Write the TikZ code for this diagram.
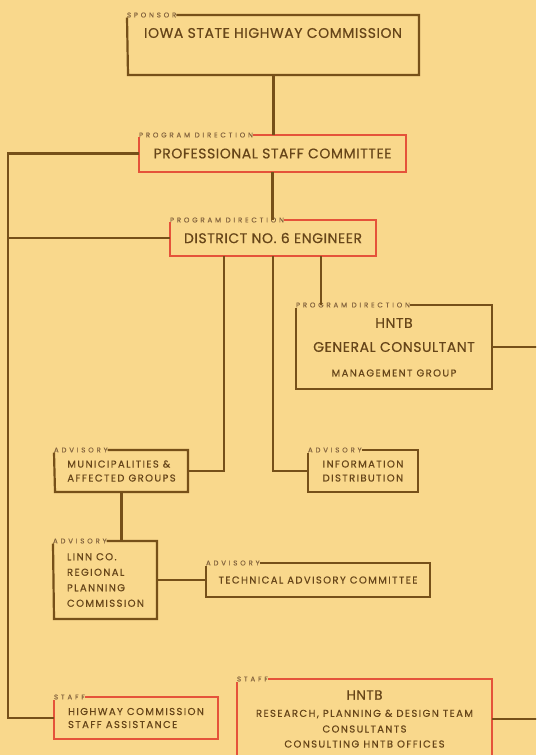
\documentclass[tikz,border=0pt]{standalone}
\usepackage{fontspec}
\setmainfont{Poppins}
\newfontfamily\bodyfont[LetterSpace=4,FakeBold=0.5]{Poppins}
\newfontfamily\smallfont[LetterSpace=14,FakeBold=0.4]{Poppins}
\newfontfamily\tagfont[LetterSpace=40,FakeBold=0.4]{Poppins}
\definecolor{bg}{HTML}{F9D88C}
\definecolor{lbrown}{HTML}{765019}
\definecolor{lred}{HTML}{E5533A}
\definecolor{tbrown}{HTML}{664519}
\definecolor{tagc}{HTML}{85653F}
\tikzset{
 bline/.style={draw=lbrown, line width=2.2pt},
 rline/.style={draw=lred, line width=2.2pt},
 boxn/.style={anchor=north west, inner sep=0pt, outer sep=0pt, text=tbrown, align=center},
 tagn/.style={anchor=west, inner sep=0pt, outer sep=0pt, font=\tagfont\fontsize{7}{7}\selectfont, text=tagc},
 bigt/.style={font=\bodyfont\fontsize{14}{16}\selectfont, text=tbrown, inner sep=0pt},
 smallt/.style={font=\smallfont\fontsize{10}{14}\selectfont, text=tbrown, inner sep=0pt, align=left},
}
\newcommand\orgframe[3]{\draw[#3, line join=miter] (#2.east) -- (#1.north east) -- (#1.south east) -- (#1.south west) -- (#2.south west);}
\begin{document}
\begin{tikzpicture}[x=1pt,y=-1pt]
\fill[bg] (0,0) rectangle (536,755);
\useasboundingbox (0,0) rectangle (536,755);
\clip (0,0) rectangle (536,755);
\coordinate (leftx) at (8,0);
\coordinate (rightx) at (540,0);

% boxes
\node[boxn, minimum width=291pt, minimum height=60pt] (sponsor) at (128,15) {};
\node[bigt] (sponsorT) at (273,33) {IOWA STATE HIGHWAY COMMISSION};
\node[tagn] (sponsorL) at ([xshift=-1pt]sponsor.north west) {SPONSOR};
\orgframe{sponsor}{sponsorL}{bline}

\node[boxn, bigt, anchor=north west, minimum width=267pt, minimum height=37pt] (psc) at (139,135) {PROFESSIONAL STAFF COMMITTEE};
\node[tagn] (pscL) at (psc.north west) {PROGRAM DIRECTION};
\orgframe{psc}{pscL}{rline}

\node[boxn, bigt, anchor=north west, minimum width=206pt, minimum height=36pt] (district) at (170,220) {DISTRICT NO. 6 ENGINEER};
\node[tagn] (districtL) at (district.north west) {PROGRAM DIRECTION};
\orgframe{district}{districtL}{rline}

\node[boxn, minimum width=196pt, minimum height=84pt] (gc) at (296,305) {};
\node[bigt] (gcA) at (394,323) {HNTB};
\node[bigt] (gcB) at (394,347) {GENERAL CONSULTANT};
\node[smallt] (gcC) at (394,373) {MANAGEMENT GROUP};
\node[tagn] (gcL) at (gc.north west) {PROGRAM DIRECTION};
\orgframe{gc}{gcL}{bline}

\node[boxn, smallt, anchor=north west, minimum width=133pt, minimum height=42pt] (muni) at (55,450) {MUNICIPALITIES \&\\AFFECTED GROUPS};
\node[tagn] (muniL) at ([xshift=-1pt]muni.north west) {ADVISORY};
\orgframe{muni}{muniL}{bline}

\node[boxn, smallt, anchor=north west, minimum width=110pt, minimum height=42pt] (info) at (308,450) {INFORMATION\\DISTRIBUTION};
\node[tagn] (infoL) at (info.north west) {ADVISORY};
\orgframe{info}{infoL}{bline}

\node[boxn, smallt, font=\smallfont\fontsize{10}{15.5}\selectfont, anchor=north west, minimum width=103pt, minimum height=78pt] (linn) at (54,541) {LINN CO.\\REGIONAL\\PLANNING\\COMMISSION};
\node[tagn] (linnL) at ([xshift=-1pt]linn.north west) {ADVISORY};
\orgframe{linn}{linnL}{bline}

\node[boxn, smallt, anchor=north west, minimum width=224pt, minimum height=34pt] (tech) at (206,563) {TECHNICAL ADVISORY COMMITTEE};
\node[tagn] (techL) at (tech.north west) {ADVISORY};
\orgframe{tech}{techL}{bline}

\node[boxn, smallt, font=\smallfont\fontsize{10}{13}\selectfont, anchor=north west, minimum width=164pt, minimum height=42pt] (hw) at (54,697) {HIGHWAY COMMISSION\\STAFF ASSISTANCE};
\node[tagn] (hwL) at (hw.north west) {STAFF};
\orgframe{hw}{hwL}{rline}

\node[boxn, minimum width=255pt, minimum height=80pt] (hntb) at (237,679) {};
\node[font=\bodyfont\fontsize{13.5}{15}\selectfont, text=tbrown, inner sep=0pt] (hntbA) at (364.5,695) {HNTB};
\node[smallt] (hntbB) at (364.5,714) {RESEARCH, PLANNING \& DESIGN TEAM};
\node[smallt] (hntbC) at (364.5,729) {CONSULTANTS};
\node[smallt] (hntbD) at (364.5,744) {CONSULTING HNTB OFFICES};
\node[tagn] (hntbL) at (hntb.north west) {STAFF};
\orgframe{hntb}{hntbL}{rline}

% connectors
\coordinate (d1) at ([xshift=-49pt]district.south);
\coordinate (d3) at ([xshift=48pt]district.south);
\draw[bline] (sponsor.south) -- (sponsor.south |- psc.north);
\draw[bline] (psc.south) -- (psc.south |- district.north);
\draw[bline] (psc.west) -- (psc.west -| leftx) -- (hw.west -| leftx) -- (hw.west);
\draw[bline] (district.west) -- (district.west -| leftx);
\draw[bline] (d1) |- (muni.east);
\draw[bline] (district.south) |- (info.west);
\draw[bline] (d3) -- (d3 |- gc.north);
\draw[bline] (gc.east) -- (gc.east -| rightx);
\draw[bline] (muni.south) -- (muni.south |- linn.north);
\draw[bline] (linn.east) -- (tech.west);
\draw[bline] (hntb.east) -- (hntb.east -| rightx);
\end{tikzpicture}
\end{document}
